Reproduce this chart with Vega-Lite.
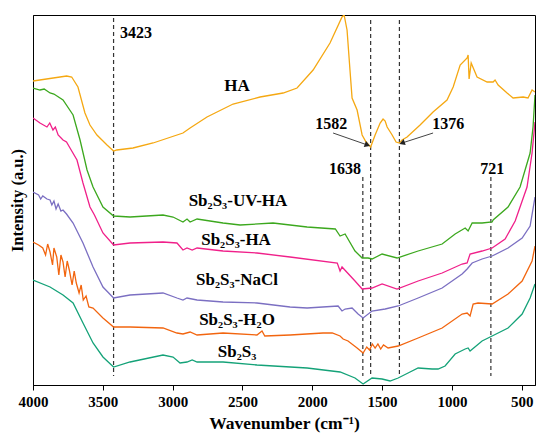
{
  "$schema": "https://vega.github.io/schema/vega-lite/v6.json",
  "width": 502,
  "height": 370,
  "autosize": "none",
  "padding": {"left": 33, "top": 15, "right": 15, "bottom": 57},
  "config": {
    "view": {"stroke": "black", "strokeWidth": 1},
    "font": "Liberation Serif",
    "axis": {"grid": false, "domainColor": "black", "tickColor": "black", "labelColor": "black", "titleColor": "black", "labelFont": "Liberation Serif", "titleFont": "Liberation Serif", "labelFontWeight": "bold", "titleFontWeight": "bold"}
  },
  "datasets": {
    "spectra": [
      {"series": "HA", "wn": 4000, "i": 304}, {"series": "HA", "wn": 3759, "i": 309}, {"series": "HA", "wn": 3723, "i": 308}, {"series": "HA", "wn": 3678, "i": 298}, {"series": "HA", "wn": 3628, "i": 272}, {"series": "HA", "wn": 3592, "i": 260}, {"series": "HA", "wn": 3542, "i": 250}, {"series": "HA", "wn": 3470, "i": 240}, {"series": "HA", "wn": 3423, "i": 234}, {"series": "HA", "wn": 3400, "i": 235}, {"series": "HA", "wn": 3284, "i": 237}, {"series": "HA", "wn": 3140, "i": 242}, {"series": "HA", "wn": 2926, "i": 252}, {"series": "HA", "wn": 2875, "i": 257}, {"series": "HA", "wn": 2754, "i": 268}, {"series": "HA", "wn": 2567, "i": 281}, {"series": "HA", "wn": 2374, "i": 288}, {"series": "HA", "wn": 2209, "i": 292}, {"series": "HA", "wn": 2109, "i": 297}, {"series": "HA", "wn": 1994, "i": 315}, {"series": "HA", "wn": 1873, "i": 342}, {"series": "HA", "wn": 1787, "i": 368}, {"series": "HA", "wn": 1772, "i": 370}, {"series": "HA", "wn": 1751, "i": 355}, {"series": "HA", "wn": 1730, "i": 315}, {"series": "HA", "wn": 1715, "i": 287}, {"series": "HA", "wn": 1679, "i": 275}, {"series": "HA", "wn": 1643, "i": 250}, {"series": "HA", "wn": 1615, "i": 243}, {"series": "HA", "wn": 1582, "i": 238}, {"series": "HA", "wn": 1550, "i": 250}, {"series": "HA", "wn": 1514, "i": 262}, {"series": "HA", "wn": 1493, "i": 266}, {"series": "HA", "wn": 1478, "i": 264}, {"series": "HA", "wn": 1464, "i": 258}, {"series": "HA", "wn": 1428, "i": 250}, {"series": "HA", "wn": 1400, "i": 243}, {"series": "HA", "wn": 1376, "i": 242}, {"series": "HA", "wn": 1357, "i": 245}, {"series": "HA", "wn": 1321, "i": 248}, {"series": "HA", "wn": 1228, "i": 260}, {"series": "HA", "wn": 1135, "i": 273}, {"series": "HA", "wn": 1035, "i": 285}, {"series": "HA", "wn": 991, "i": 298}, {"series": "HA", "wn": 941, "i": 320}, {"series": "HA", "wn": 891, "i": 327}, {"series": "HA", "wn": 884, "i": 330}, {"series": "HA", "wn": 877, "i": 306}, {"series": "HA", "wn": 862, "i": 322}, {"series": "HA", "wn": 820, "i": 308}, {"series": "HA", "wn": 748, "i": 303}, {"series": "HA", "wn": 705, "i": 303}, {"series": "HA", "wn": 691, "i": 305}, {"series": "HA", "wn": 669, "i": 300}, {"series": "HA", "wn": 605, "i": 292}, {"series": "HA", "wn": 562, "i": 287}, {"series": "HA", "wn": 490, "i": 288}, {"series": "HA", "wn": 455, "i": 287}, {"series": "HA", "wn": 426, "i": 295}, {"series": "HA", "wn": 405, "i": 293},

      {"series": "UV-HA", "wn": 4000, "i": 297}, {"series": "UV-HA", "wn": 3950, "i": 295}, {"series": "UV-HA", "wn": 3920, "i": 296}, {"series": "UV-HA", "wn": 3878, "i": 292}, {"series": "UV-HA", "wn": 3850, "i": 291}, {"series": "UV-HA", "wn": 3785, "i": 285}, {"series": "UV-HA", "wn": 3713, "i": 270}, {"series": "UV-HA", "wn": 3663, "i": 245}, {"series": "UV-HA", "wn": 3613, "i": 215}, {"series": "UV-HA", "wn": 3570, "i": 198}, {"series": "UV-HA", "wn": 3499, "i": 178}, {"series": "UV-HA", "wn": 3423, "i": 169}, {"series": "UV-HA", "wn": 3305, "i": 168}, {"series": "UV-HA", "wn": 3069, "i": 170}, {"series": "UV-HA", "wn": 2997, "i": 168}, {"series": "UV-HA", "wn": 2926, "i": 163}, {"series": "UV-HA", "wn": 2897, "i": 166}, {"series": "UV-HA", "wn": 2875, "i": 163}, {"series": "UV-HA", "wn": 2825, "i": 166}, {"series": "UV-HA", "wn": 2639, "i": 162}, {"series": "UV-HA", "wn": 2517, "i": 160}, {"series": "UV-HA", "wn": 2281, "i": 162}, {"series": "UV-HA", "wn": 2037, "i": 158}, {"series": "UV-HA", "wn": 1835, "i": 156}, {"series": "UV-HA", "wn": 1801, "i": 149}, {"series": "UV-HA", "wn": 1765, "i": 151}, {"series": "UV-HA", "wn": 1694, "i": 134}, {"series": "UV-HA", "wn": 1643, "i": 127}, {"series": "UV-HA", "wn": 1600, "i": 127}, {"series": "UV-HA", "wn": 1572, "i": 126}, {"series": "UV-HA", "wn": 1500, "i": 131}, {"series": "UV-HA", "wn": 1393, "i": 127}, {"series": "UV-HA", "wn": 1242, "i": 134}, {"series": "UV-HA", "wn": 1070, "i": 141}, {"series": "UV-HA", "wn": 977, "i": 151}, {"series": "UV-HA", "wn": 905, "i": 157}, {"series": "UV-HA", "wn": 884, "i": 154}, {"series": "UV-HA", "wn": 855, "i": 162}, {"series": "UV-HA", "wn": 784, "i": 162}, {"series": "UV-HA", "wn": 712, "i": 163}, {"series": "UV-HA", "wn": 705, "i": 165}, {"series": "UV-HA", "wn": 598, "i": 178}, {"series": "UV-HA", "wn": 512, "i": 198}, {"series": "UV-HA", "wn": 440, "i": 232}, {"series": "UV-HA", "wn": 419, "i": 258}, {"series": "UV-HA", "wn": 405, "i": 290},

      {"series": "Sb-HA", "wn": 4000, "i": 267}, {"series": "Sb-HA", "wn": 3950, "i": 262}, {"series": "Sb-HA", "wn": 3900, "i": 258}, {"series": "Sb-HA", "wn": 3880, "i": 262}, {"series": "Sb-HA", "wn": 3857, "i": 255}, {"series": "Sb-HA", "wn": 3840, "i": 258}, {"series": "Sb-HA", "wn": 3820, "i": 250}, {"series": "Sb-HA", "wn": 3785, "i": 245}, {"series": "Sb-HA", "wn": 3760, "i": 243}, {"series": "Sb-HA", "wn": 3735, "i": 237}, {"series": "Sb-HA", "wn": 3685, "i": 225}, {"series": "Sb-HA", "wn": 3642, "i": 202}, {"series": "Sb-HA", "wn": 3592, "i": 178}, {"series": "Sb-HA", "wn": 3560, "i": 170}, {"series": "Sb-HA", "wn": 3499, "i": 152}, {"series": "Sb-HA", "wn": 3423, "i": 140}, {"series": "Sb-HA", "wn": 3305, "i": 142}, {"series": "Sb-HA", "wn": 3069, "i": 143}, {"series": "Sb-HA", "wn": 2969, "i": 142}, {"series": "Sb-HA", "wn": 2926, "i": 135}, {"series": "Sb-HA", "wn": 2897, "i": 137}, {"series": "Sb-HA", "wn": 2860, "i": 135}, {"series": "Sb-HA", "wn": 2825, "i": 137}, {"series": "Sb-HA", "wn": 2639, "i": 134}, {"series": "Sb-HA", "wn": 2396, "i": 132}, {"series": "Sb-HA", "wn": 2159, "i": 128}, {"series": "Sb-HA", "wn": 1821, "i": 122}, {"series": "Sb-HA", "wn": 1801, "i": 114}, {"series": "Sb-HA", "wn": 1787, "i": 118}, {"series": "Sb-HA", "wn": 1694, "i": 104}, {"series": "Sb-HA", "wn": 1643, "i": 96}, {"series": "Sb-HA", "wn": 1572, "i": 97}, {"series": "Sb-HA", "wn": 1500, "i": 101}, {"series": "Sb-HA", "wn": 1393, "i": 96}, {"series": "Sb-HA", "wn": 1242, "i": 104}, {"series": "Sb-HA", "wn": 1070, "i": 112}, {"series": "Sb-HA", "wn": 927, "i": 121}, {"series": "Sb-HA", "wn": 891, "i": 122}, {"series": "Sb-HA", "wn": 870, "i": 131}, {"series": "Sb-HA", "wn": 784, "i": 134}, {"series": "Sb-HA", "wn": 712, "i": 137}, {"series": "Sb-HA", "wn": 619, "i": 146}, {"series": "Sb-HA", "wn": 547, "i": 164}, {"series": "Sb-HA", "wn": 462, "i": 198}, {"series": "Sb-HA", "wn": 426, "i": 232}, {"series": "Sb-HA", "wn": 405, "i": 263},

      {"series": "NaCl", "wn": 4000, "i": 193}, {"series": "NaCl", "wn": 3960, "i": 190}, {"series": "NaCl", "wn": 3945, "i": 186}, {"series": "NaCl", "wn": 3930, "i": 189}, {"series": "NaCl", "wn": 3900, "i": 186}, {"series": "NaCl", "wn": 3878, "i": 185}, {"series": "NaCl", "wn": 3865, "i": 180}, {"series": "NaCl", "wn": 3850, "i": 184}, {"series": "NaCl", "wn": 3835, "i": 176}, {"series": "NaCl", "wn": 3820, "i": 181}, {"series": "NaCl", "wn": 3800, "i": 174}, {"series": "NaCl", "wn": 3785, "i": 175}, {"series": "NaCl", "wn": 3760, "i": 171}, {"series": "NaCl", "wn": 3713, "i": 162}, {"series": "NaCl", "wn": 3642, "i": 142}, {"series": "NaCl", "wn": 3570, "i": 118}, {"series": "NaCl", "wn": 3499, "i": 98}, {"series": "NaCl", "wn": 3423, "i": 87}, {"series": "NaCl", "wn": 3305, "i": 90}, {"series": "NaCl", "wn": 3069, "i": 92}, {"series": "NaCl", "wn": 2969, "i": 87}, {"series": "NaCl", "wn": 2926, "i": 85}, {"series": "NaCl", "wn": 2897, "i": 87}, {"series": "NaCl", "wn": 2825, "i": 85}, {"series": "NaCl", "wn": 2639, "i": 83}, {"series": "NaCl", "wn": 2396, "i": 82}, {"series": "NaCl", "wn": 2159, "i": 78}, {"series": "NaCl", "wn": 2037, "i": 77}, {"series": "NaCl", "wn": 1815, "i": 79}, {"series": "NaCl", "wn": 1787, "i": 74}, {"series": "NaCl", "wn": 1765, "i": 76}, {"series": "NaCl", "wn": 1715, "i": 77}, {"series": "NaCl", "wn": 1672, "i": 71}, {"series": "NaCl", "wn": 1636, "i": 67}, {"series": "NaCl", "wn": 1572, "i": 74}, {"series": "NaCl", "wn": 1478, "i": 76}, {"series": "NaCl", "wn": 1385, "i": 79}, {"series": "NaCl", "wn": 1242, "i": 87}, {"series": "NaCl", "wn": 1070, "i": 97}, {"series": "NaCl", "wn": 927, "i": 111}, {"series": "NaCl", "wn": 891, "i": 116}, {"series": "NaCl", "wn": 855, "i": 122}, {"series": "NaCl", "wn": 784, "i": 126}, {"series": "NaCl", "wn": 712, "i": 129}, {"series": "NaCl", "wn": 598, "i": 137}, {"series": "NaCl", "wn": 497, "i": 147}, {"series": "NaCl", "wn": 440, "i": 159}, {"series": "NaCl", "wn": 405, "i": 188},

      {"series": "H2O", "wn": 4000, "i": 143}, {"series": "H2O", "wn": 3960, "i": 140}, {"series": "H2O", "wn": 3930, "i": 137}, {"series": "H2O", "wn": 3910, "i": 130}, {"series": "H2O", "wn": 3895, "i": 141}, {"series": "H2O", "wn": 3878, "i": 133}, {"series": "H2O", "wn": 3860, "i": 120}, {"series": "H2O", "wn": 3850, "i": 137}, {"series": "H2O", "wn": 3830, "i": 128}, {"series": "H2O", "wn": 3815, "i": 110}, {"series": "H2O", "wn": 3800, "i": 130}, {"series": "H2O", "wn": 3785, "i": 123}, {"series": "H2O", "wn": 3770, "i": 108}, {"series": "H2O", "wn": 3755, "i": 124}, {"series": "H2O", "wn": 3740, "i": 115}, {"series": "H2O", "wn": 3720, "i": 100}, {"series": "H2O", "wn": 3705, "i": 114}, {"series": "H2O", "wn": 3690, "i": 102}, {"series": "H2O", "wn": 3670, "i": 92}, {"series": "H2O", "wn": 3655, "i": 100}, {"series": "H2O", "wn": 3640, "i": 85}, {"series": "H2O", "wn": 3620, "i": 89}, {"series": "H2O", "wn": 3600, "i": 78}, {"series": "H2O", "wn": 3570, "i": 77}, {"series": "H2O", "wn": 3499, "i": 67}, {"series": "H2O", "wn": 3423, "i": 58}, {"series": "H2O", "wn": 3305, "i": 58}, {"series": "H2O", "wn": 3069, "i": 57}, {"series": "H2O", "wn": 2969, "i": 52}, {"series": "H2O", "wn": 2926, "i": 51}, {"series": "H2O", "wn": 2875, "i": 53}, {"series": "H2O", "wn": 2825, "i": 50}, {"series": "H2O", "wn": 2639, "i": 52}, {"series": "H2O", "wn": 2396, "i": 50}, {"series": "H2O", "wn": 2360, "i": 54}, {"series": "H2O", "wn": 2340, "i": 49}, {"series": "H2O", "wn": 2159, "i": 50}, {"series": "H2O", "wn": 1923, "i": 52}, {"series": "H2O", "wn": 1857, "i": 52}, {"series": "H2O", "wn": 1801, "i": 49}, {"series": "H2O", "wn": 1779, "i": 46}, {"series": "H2O", "wn": 1744, "i": 44}, {"series": "H2O", "wn": 1679, "i": 37}, {"series": "H2O", "wn": 1636, "i": 32}, {"series": "H2O", "wn": 1610, "i": 38}, {"series": "H2O", "wn": 1590, "i": 35}, {"series": "H2O", "wn": 1570, "i": 41}, {"series": "H2O", "wn": 1550, "i": 37}, {"series": "H2O", "wn": 1530, "i": 41}, {"series": "H2O", "wn": 1510, "i": 36}, {"series": "H2O", "wn": 1490, "i": 40}, {"series": "H2O", "wn": 1457, "i": 37}, {"series": "H2O", "wn": 1385, "i": 39}, {"series": "H2O", "wn": 1242, "i": 47}, {"series": "H2O", "wn": 1070, "i": 57}, {"series": "H2O", "wn": 927, "i": 71}, {"series": "H2O", "wn": 891, "i": 72}, {"series": "H2O", "wn": 870, "i": 69}, {"series": "H2O", "wn": 848, "i": 81}, {"series": "H2O", "wn": 813, "i": 82}, {"series": "H2O", "wn": 712, "i": 81}, {"series": "H2O", "wn": 598, "i": 91}, {"series": "H2O", "wn": 497, "i": 104}, {"series": "H2O", "wn": 426, "i": 124}, {"series": "H2O", "wn": 405, "i": 139},

      {"series": "Sb2S3", "wn": 4000, "i": 105}, {"series": "Sb2S3", "wn": 3878, "i": 98}, {"series": "Sb2S3", "wn": 3785, "i": 90}, {"series": "Sb2S3", "wn": 3713, "i": 82}, {"series": "Sb2S3", "wn": 3642, "i": 62}, {"series": "Sb2S3", "wn": 3570, "i": 42}, {"series": "Sb2S3", "wn": 3499, "i": 28}, {"series": "Sb2S3", "wn": 3423, "i": 18}, {"series": "Sb2S3", "wn": 3305, "i": 23}, {"series": "Sb2S3", "wn": 3069, "i": 30}, {"series": "Sb2S3", "wn": 2997, "i": 28}, {"series": "Sb2S3", "wn": 2947, "i": 22}, {"series": "Sb2S3", "wn": 2897, "i": 23}, {"series": "Sb2S3", "wn": 2860, "i": 25}, {"series": "Sb2S3", "wn": 2825, "i": 23}, {"series": "Sb2S3", "wn": 2639, "i": 23}, {"series": "Sb2S3", "wn": 2396, "i": 20}, {"series": "Sb2S3", "wn": 2037, "i": 17}, {"series": "Sb2S3", "wn": 1801, "i": 13}, {"series": "Sb2S3", "wn": 1694, "i": 7}, {"series": "Sb2S3", "wn": 1636, "i": 1}, {"series": "Sb2S3", "wn": 1572, "i": 7}, {"series": "Sb2S3", "wn": 1500, "i": 6}, {"series": "Sb2S3", "wn": 1443, "i": 4}, {"series": "Sb2S3", "wn": 1385, "i": 7}, {"series": "Sb2S3", "wn": 1314, "i": 12}, {"series": "Sb2S3", "wn": 1242, "i": 17}, {"series": "Sb2S3", "wn": 1142, "i": 16}, {"series": "Sb2S3", "wn": 1099, "i": 16}, {"series": "Sb2S3", "wn": 1049, "i": 19}, {"series": "Sb2S3", "wn": 977, "i": 31}, {"series": "Sb2S3", "wn": 905, "i": 36}, {"series": "Sb2S3", "wn": 884, "i": 37}, {"series": "Sb2S3", "wn": 870, "i": 34}, {"series": "Sb2S3", "wn": 784, "i": 44}, {"series": "Sb2S3", "wn": 712, "i": 49}, {"series": "Sb2S3", "wn": 598, "i": 57}, {"series": "Sb2S3", "wn": 497, "i": 71}, {"series": "Sb2S3", "wn": 440, "i": 87}, {"series": "Sb2S3", "wn": 405, "i": 101}
    ],
    "peaks": [
      {"wn": 3423, "top": 367, "bottom": 9},
      {"wn": 1582, "top": 365, "bottom": 9},
      {"wn": 1376, "top": 365, "bottom": 9},
      {"wn": 1638, "top": 208, "bottom": 9},
      {"wn": 721, "top": 208, "bottom": 9}
    ],
    "peakLabels": [
      {"label": "3423", "wn": 3262, "i": 352},
      {"label": "1582", "wn": 1865, "i": 261},
      {"label": "1376", "wn": 1027, "i": 261},
      {"label": "1638", "wn": 1765, "i": 216},
      {"label": "721", "wn": 712, "i": 216}
    ],
    "seriesLabels": [
      {"label": "HA", "wn": 2539, "i": 299},
      {"label": "Sb₂S₃-UV-HA", "wn": 2532, "i": 184},
      {"label": "Sb₂S₃-HA", "wn": 2546, "i": 145},
      {"label": "Sb₂S₃-NaCl", "wn": 2539, "i": 105},
      {"label": "Sb₂S₃-H₂O", "wn": 2539, "i": 65},
      {"label": "Sb₂S₃", "wn": 2539, "i": 33}
    ],
    "arrows": [
      {"wn": 1851, "i": 252, "wn2": 1605, "i2": 240, "angle": 21},
      {"wn": 1135, "i": 252, "wn2": 1357, "i2": 242, "angle": 161}
    ]
  },
  "layer": [
    {
      "data": {"name": "peaks"},
      "mark": {"type": "rule", "strokeDash": [4, 3], "color": "#333333", "strokeWidth": 1.2},
      "encoding": {
        "x": {"field": "wn", "type": "quantitative", "scale": {"domain": [405, 4000], "reverse": true, "nice": false, "zero": false},
          "axis": {"title": "Wavenumber (cm⁻¹)", "values": [4000, 3750, 3500, 3250, 3000, 2750, 2500, 2250, 2000, 1750, 1500, 1250, 1000, 750, 500], "format": "d", "labelExpr": "datum.value % 500 === 0 ? datum.label : ''", "labelFontSize": 15, "titleFontSize": 17.5, "tickSize": 5, "labelPadding": 4, "titlePadding": 5, "labelFlush": false}},
        "y": {"field": "top", "type": "quantitative", "scale": {"domain": [0, 370], "nice": false, "zero": false},
          "axis": {"title": "Intensity (a.u.)", "labels": false, "ticks": false, "titleFontSize": 16.5, "titlePadding": 8}},
        "y2": {"field": "bottom"}
      }
    },
    {
      "data": {"name": "spectra"},
      "mark": {"type": "line", "strokeWidth": 1.3, "clip": true},
      "encoding": {
        "x": {"field": "wn", "type": "quantitative"},
        "y": {"field": "i", "type": "quantitative"},
        "color": {"field": "series", "type": "nominal", "legend": null,
          "scale": {"domain": ["HA", "UV-HA", "Sb-HA", "NaCl", "H2O", "Sb2S3"], "range": ["#F5A812", "#3CA81E", "#F0208A", "#7B6FC2", "#F2650F", "#14A278"]}}
      }
    },
    {
      "data": {"name": "arrows"},
      "mark": {"type": "rule", "color": "#444444", "strokeWidth": 1},
      "encoding": {
        "x": {"field": "wn", "type": "quantitative"},
        "y": {"field": "i", "type": "quantitative"},
        "x2": {"field": "wn2"},
        "y2": {"field": "i2"}
      }
    },
    {
      "data": {"name": "arrows"},
      "mark": {"type": "point", "shape": "triangle-right", "filled": true, "color": "#222222", "size": 40, "opacity": 1},
      "encoding": {
        "x": {"field": "wn2", "type": "quantitative"},
        "y": {"field": "i2", "type": "quantitative"},
        "angle": {"field": "angle", "type": "quantitative", "scale": null}
      }
    },
    {
      "data": {"name": "peakLabels"},
      "mark": {"type": "text", "font": "Liberation Serif", "fontWeight": "bold", "fontSize": 16, "color": "black", "baseline": "middle", "align": "center"},
      "encoding": {
        "x": {"field": "wn", "type": "quantitative"},
        "y": {"field": "i", "type": "quantitative"},
        "text": {"field": "label"}
      }
    },
    {
      "data": {"name": "seriesLabels"},
      "mark": {"type": "text", "font": "Liberation Serif", "fontWeight": "bold", "fontSize": 17, "color": "black", "baseline": "middle", "align": "center"},
      "encoding": {
        "x": {"field": "wn", "type": "quantitative"},
        "y": {"field": "i", "type": "quantitative"},
        "text": {"field": "label"}
      }
    }
  ]
}
